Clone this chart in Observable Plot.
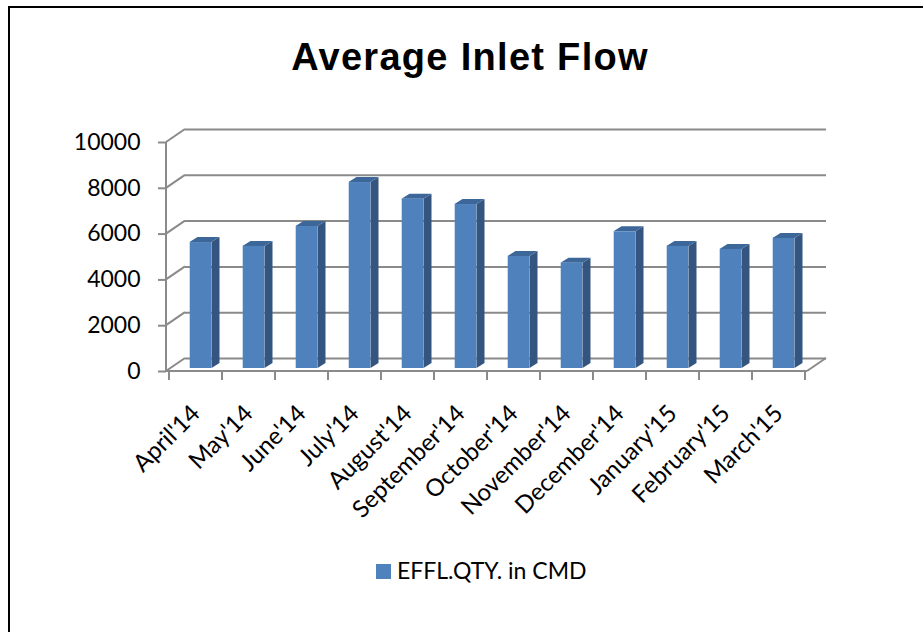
<!DOCTYPE html>
<html>
<head>
<meta charset="utf-8">
<script src="https://cdn.jsdelivr.net/npm/d3@7"></script>
<script src="https://cdn.jsdelivr.net/npm/@observablehq/plot@0.6"></script>
<style>
  html, body { margin: 0; padding: 0; width: 923px; height: 632px; overflow: hidden; background: #fff; }
  #frame { position: absolute; left: 8px; top: 6px; width: 1000px; height: 1000px; border: 2px solid #000; box-sizing: border-box; }
  #title { position: absolute; left: 0; width: 940px; top: 38px; text-align: center; font-family: "Liberation Sans", Arial, sans-serif; font-weight: bold; font-size: 38px; line-height: 38px; letter-spacing: 1.3px; color: #000; white-space: nowrap; }
  #chart { position: absolute; left: 0; top: 100px; }
  #chart svg { overflow: visible; }
  #legend { position: absolute; left: 376px; top: 556px; display: flex; align-items: center; font-family: Lato, "Open Sans", sans-serif; font-size: 23px; line-height: 28px; color: #000; white-space: nowrap; }
  #legend .sw { width: 15px; height: 15px; background: #4f81bd; margin-right: 6px; margin-top: 3px; }
</style>
</head>
<body>
<div id="frame"></div>
<div id="title">Average Inlet Flow</div>
<div id="chart"></div>
<div id="legend"><span class="sw"></span><span>EFFL.QTY. in CMD</span></div>
<script>
const months = ["April'14", "May'14", "June'14", "July'14", "August'14", "September'14", "October'14", "November'14", "December'14", "January'15", "February'15", "March'15"];
const values = [5500, 5330, 6200, 8120, 7390, 7160, 4890, 4600, 5970, 5330, 5200, 5680];
const yTicks = [0, 2000, 4000, 6000, 8000, 10000];
const seriesName = "EFFL.QTY. in CMD";

const data = months.map((m, i) => ({month: m, value: values[i]}));

const FONT = "Lato, 'Open Sans', sans-serif";
const GRID = "#8a8a8a";
const DX = 19, DY = -13;       // depth of the 3D box
const BX = 5, BY = -3;         // bar placement in depth
const BDX = 8, BDY = -5;       // bar depth
const BAR_W = 22;

// 3D box edges drawn with the plot's own scales
function box3d(index, {x, y}, values, dims) {
  const x0 = dims.marginLeft, x1 = dims.width - dims.marginRight;
  const g = d3.create("svg:g").attr("stroke", GRID).attr("stroke-width", 2).attr("fill", "none");
  for (const t of yTicks) {
    g.append("line").attr("x1", x0).attr("y1", y(t)).attr("x2", x0 + DX).attr("y2", y(t) + DY);
  }
  g.append("line").attr("x1", x0).attr("y1", y(0)).attr("x2", x0).attr("y2", y(yTicks[yTicks.length - 1]));
  g.append("line").attr("x1", x0).attr("y1", y(0)).attr("x2", x1).attr("y2", y(0));
  g.append("line").attr("x1", x1).attr("y1", y(0)).attr("x2", x1 + DX).attr("y2", y(0) + DY);
  const bounds = months.map(m => x(m)).concat([x(months[months.length - 1]) + x.bandwidth()]);
  for (const b of bounds) {
    g.append("line").attr("x1", b).attr("y1", y(0)).attr("x2", b).attr("y2", y(0) + 9);
  }
  return g.node();
}

// side and top faces of the bars
function barFaces(index, {x, y}, values, dims) {
  const g = d3.create("svg:g");
  const bw = x.bandwidth();
  for (const d of data) {
    const xl = x(d.month) + (bw - BAR_W) / 2 + BX;
    const xr = xl + BAR_W;
    const yb = y(0) + BY, yt = y(d.value) + BY;
    g.append("polygon")
      .attr("points", [[xr, yb], [xr, yt], [xr + BDX, yt + BDY], [xr + BDX, yb + BDY]].map(p => p.join(",")).join(" "))
      .attr("fill", "#34557f");
    g.append("polygon")
      .attr("points", [[xl, yt], [xr, yt], [xr + BDX, yt + BDY], [xl + BDX, yt + BDY]].map(p => p.join(",")).join(" "))
      .attr("fill", "#3d6699");
  }
  return g.node();
}

const W = 923, H = 430;
const mL = 166, mR = 116, mT = 42, mB = 159;
const step = (W - mL - mR) / months.length;
const inset = (step - BAR_W) / 2;

const chart = Plot.plot({
  width: W,
  height: H,
  marginLeft: mL,
  marginRight: mR,
  marginTop: mT,
  marginBottom: mB,
  style: {background: "transparent", fontFamily: FONT, overflow: "visible"},
  x: {domain: months, padding: 0},
  y: {domain: [0, 10000]},
  marks: [
    Plot.ruleY(yTicks, {stroke: GRID, strokeWidth: 2, dx: DX, dy: DY}),
    box3d,
    barFaces,
    Plot.barY(data, {x: "month", y: "value", fill: "#4f81bd", insetLeft: inset, insetRight: inset, dx: BX, dy: BY}),
    Plot.axisY({ticks: yTicks, tickSize: 8, tickPadding: 18, stroke: GRID, strokeWidth: 2, fontSize: 23, fontFamily: FONT, fill: "#000", label: null, tickFormat: d => String(d)}),
    Plot.axisX({tickSize: 0, tickPadding: 38, tickRotate: -45, fontSize: 24, fontFamily: FONT, fill: "#000", label: null})
  ]
});
document.getElementById("chart").appendChild(chart);
</script>
</body>
</html>
